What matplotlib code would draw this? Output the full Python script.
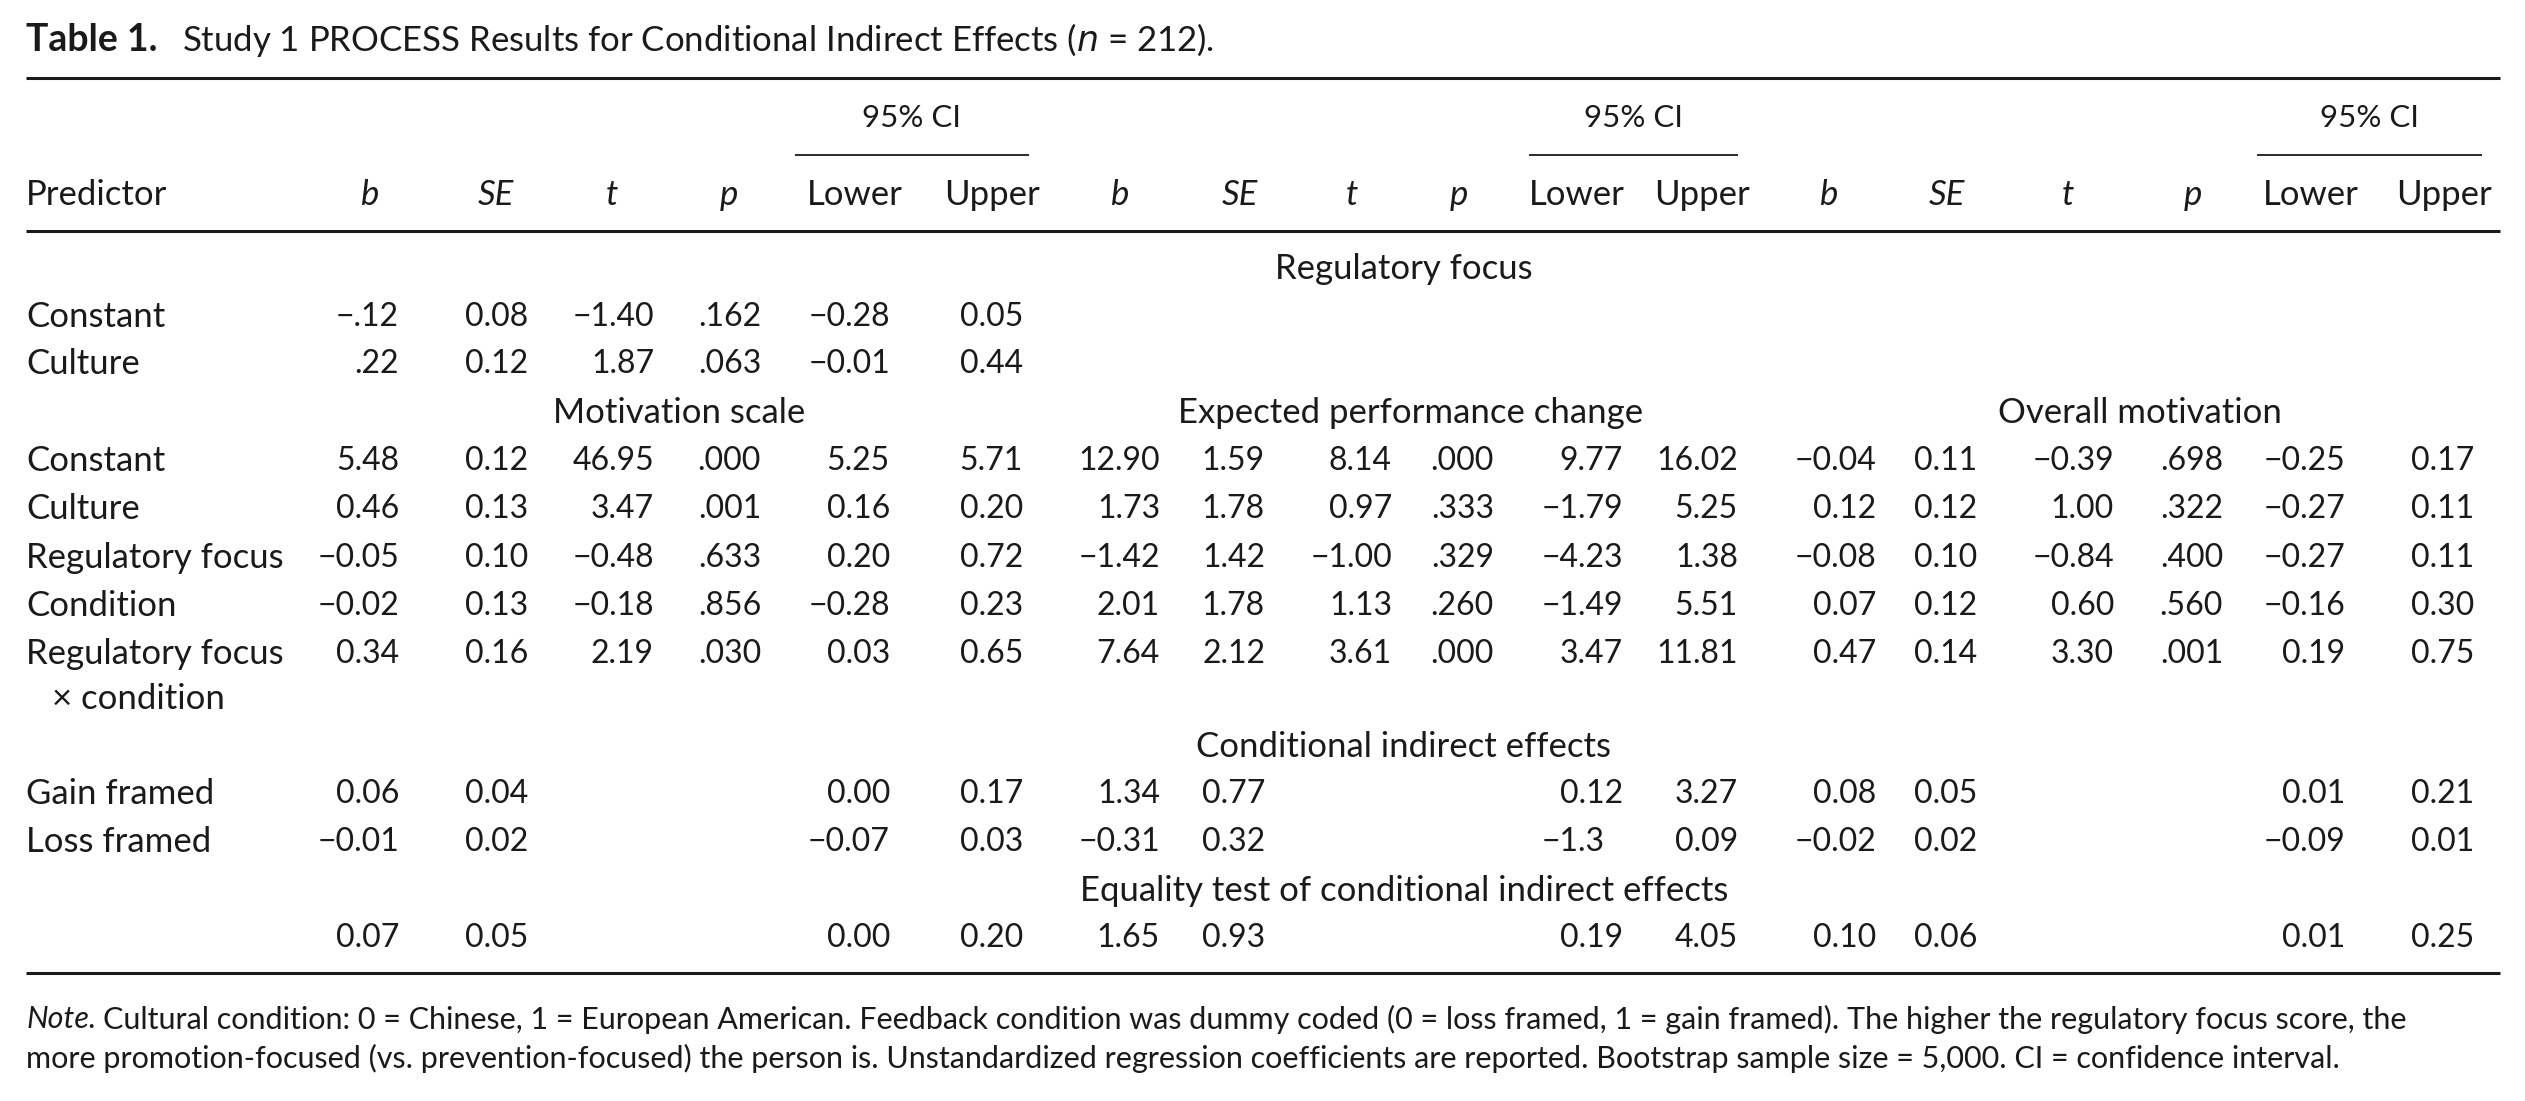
import matplotlib.pyplot as plt

plt.rcParams['font.family'] = ['Lato', 'DejaVu Sans']

# --- Data ---
col_heads = ['b', 'SE', 't', 'p', 'Lower', 'Upper'] * 3
block_titles = ['Motivation scale', 'Expected performance change', 'Overall motivation']

reg_labels = ['Constant', 'Culture']
reg_values = [
    ['−.12', '0.08', '−1.40', '.162', '−0.28', '0.05'],
    ['.22', '0.12', '1.87', '.063', '−0.01', '0.44'],
]

main_labels = ['Constant', 'Culture', 'Regulatory focus', 'Condition',
               'Regulatory focus\n× condition']
main_values = [
    ['5.48', '0.12', '46.95', '.000', '5.25', '5.71',
     '12.90', '1.59', '8.14', '.000', '9.77', '16.02',
     '−0.04', '0.11', '−0.39', '.698', '−0.25', '0.17'],
    ['0.46', '0.13', '3.47', '.001', '0.16', '0.20',
     '1.73', '1.78', '0.97', '.333', '−1.79', '5.25',
     '0.12', '0.12', '1.00', '.322', '−0.27', '0.11'],
    ['−0.05', '0.10', '−0.48', '.633', '0.20', '0.72',
     '−1.42', '1.42', '−1.00', '.329', '−4.23', '1.38',
     '−0.08', '0.10', '−0.84', '.400', '−0.27', '0.11'],
    ['−0.02', '0.13', '−0.18', '.856', '−0.28', '0.23',
     '2.01', '1.78', '1.13', '.260', '−1.49', '5.51',
     '0.07', '0.12', '0.60', '.560', '−0.16', '0.30'],
    ['0.34', '0.16', '2.19', '.030', '0.03', '0.65',
     '7.64', '2.12', '3.61', '.000', '3.47', '11.81',
     '0.47', '0.14', '3.30', '.001', '0.19', '0.75'],
]

cie_labels = ['Gain framed', 'Loss framed']
cie_values = [
    ['0.06', '0.04', '', '', '0.00', '0.17',
     '1.34', '0.77', '', '', '0.12', '3.27',
     '0.08', '0.05', '', '', '0.01', '0.21'],
    ['−0.01', '0.02', '', '', '−0.07', '0.03',
     '−0.31', '0.32', '', '', '−1.3', '0.09',
     '−0.02', '0.02', '', '', '−0.09', '0.01'],
]

eq_values = ['0.07', '0.05', '', '', '0.00', '0.20',
             '1.65', '0.93', '', '', '0.19', '4.05',
             '0.10', '0.06', '', '', '0.01', '0.25']

note_lines = [
    'Cultural condition: 0 = Chinese, 1 = European American. Feedback condition was dummy coded '
    '(0 = loss framed, 1 = gain framed). The higher the regulatory focus score, the',
    'more promotion-focused (vs. prevention-focused) the person is. Unstandardized regression '
    'coefficients are reported. Bootstrap sample size = 5,000. CI = confidence interval.',
]

# --- Layout (pixel coordinates) ---
W, H = 2525, 1101
ink = '#1a1a1a'
fs_num = 23    # numbers
fs = 25        # words
col_right = [399, 528, 654, 761, 890, 1023, 1160, 1265, 1392, 1494, 1623, 1738,
             1876, 1977, 2114, 2223, 2345, 2474]
head_x = [370, 496, 612, 729, 855, 992, 1120, 1240, 1352, 1459, 1577, 1702,
          1829, 1947, 2068, 2193, 2311, 2444]
ci_spans = [(795, 1029), (1529, 1738), (2257, 2482)]
block_x = [679, 1411, 2140]
mid_x = 1404
left = 26

fig = plt.figure(figsize=(W / 100, H / 100), dpi=100)
ax = fig.add_axes([0, 0, 1, 1])
ax.set_xlim(0, W)
ax.set_ylim(H, 0)
ax.axis('off')

renderer = fig.canvas.get_renderer()


def text_w(s, **kw):
    t = ax.text(0, 0, s, **kw)
    w = t.get_window_extent(renderer).width
    t.remove()
    return w


digit_w = text_w('0', fontsize=fs_num)


def decimals(s):
    return len(s) - s.index('.') - 1 if '.' in s else 0


# max decimals per column, used for decimal alignment
all_rows = [r + [''] * 12 for r in reg_values] + main_values + cie_values + [eq_values]
col_dec = [max(decimals(r[j]) for r in all_rows if r[j]) for j in range(18)]


def put_row(y, values, label=None):
    if label is not None:
        lines = label.split('\n')
        ax.text(left, y, lines[0], fontsize=fs, color=ink, ha='left', va='center')
        if len(lines) > 1:
            ax.text(52, y + 45, lines[1], fontsize=fs, color=ink, ha='left', va='center')
    for j, s in enumerate(values):
        if not s:
            continue
        x = col_right[j] - (col_dec[j] - decimals(s)) * digit_w
        ax.text(x, y, s, fontsize=fs_num, color=ink, ha='right', va='center')


# title
ax.text(left, 40, 'Table 1.', fontsize=27, fontweight='bold', color=ink, va='center')
ax.text(182, 40, 'Study 1 PROCESS Results for Conditional Indirect Effects ($\\mathit{n}$ = 212).',
        fontsize=fs, color=ink, va='center')

# rules
for y in (78, 231, 973):
    ax.plot([left, 2500], [y, y], color=ink, lw=2.2, solid_capstyle='butt')
for x0, x1 in ci_spans:
    ax.plot([x0, x1], [155, 155], color=ink, lw=1.3, solid_capstyle='butt')
    ax.text((x0 + x1) / 2, 118, '95% CI', fontsize=22.5, color=ink, ha='center', va='center')

# header
ax.text(left, 195, 'Predictor', fontsize=fs, color=ink, va='center')
for x, h in zip(head_x, col_heads):
    ax.text(x, 195, h, fontsize=fs, color=ink, ha='center', va='center',
            style='italic' if h in ('b', 'SE', 't', 'p') else 'normal')

# regulatory focus block
ax.text(mid_x, 269, 'Regulatory focus', fontsize=fs, color=ink, ha='center', va='center')
for k, (lab, vals) in enumerate(zip(reg_labels, reg_values)):
    put_row(317 + k * 47, vals, lab)

# outcome blocks
for x, t in zip(block_x, block_titles):
    ax.text(x, 413, t, fontsize=fs, color=ink, ha='center', va='center')
for k, (lab, vals) in enumerate(zip(main_labels, main_values)):
    put_row(461 + k * 48.3, vals, lab)

# conditional indirect effects
ax.text(mid_x, 747, 'Conditional indirect effects', fontsize=fs, color=ink, ha='center', va='center')
for k, (lab, vals) in enumerate(zip(cie_labels, cie_values)):
    put_row(794 + k * 48, vals, lab)

ax.text(mid_x, 891, 'Equality test of conditional indirect effects', fontsize=fs, color=ink,
        ha='center', va='center')
put_row(938, eq_values)

# note
nfs = 22
note_w = text_w('Note. ', fontsize=nfs, style='italic')
ax.text(left, 1019, 'Note.', fontsize=nfs, style='italic', color=ink, va='center')
ax.text(left + note_w, 1019, note_lines[0], fontsize=nfs, color=ink, va='center')
ax.text(left, 1058, note_lines[1], fontsize=nfs, color=ink, va='center')

fig.savefig('out.png', dpi=100, facecolor='white')
